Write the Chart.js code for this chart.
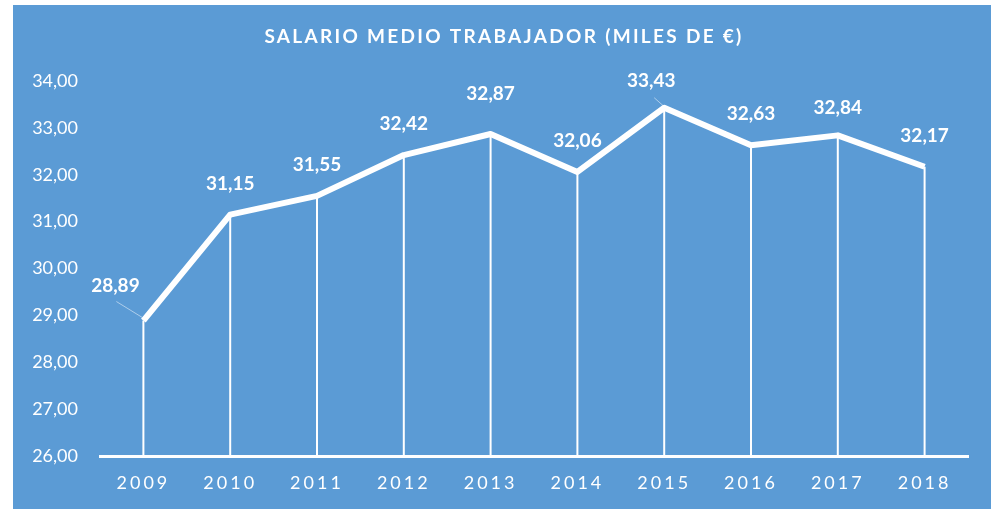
<!DOCTYPE html>
<html>
<head>
<meta charset="utf-8">
<script src="https://cdn.jsdelivr.net/npm/chart.js@4"></script>
<style>
  body { margin: 0; background: #fff; }
  #wrap { position: absolute; left: 13px; top: 5px; width: 978px; height: 504px; background: #5b9bd5; }
</style>
</head>
<body>
<div id="wrap"><canvas id="line-chart"></canvas></div>
<script>
const years = ['2009', '2010', '2011', '2012', '2013', '2014', '2015', '2016', '2017', '2018'];
const salary = [28.89, 31.15, 31.55, 32.42, 32.87, 32.06, 33.43, 32.63, 32.84, 32.17];
const titleText = 'SALARIO MEDIO TRABAJADOR (MILES DE €)';

const fmt = v => v.toFixed(2).replace('.', ',');

// label offsets relative to the point (a few were moved by hand in the original)
const labelShift = { 0: [-28, -35], 4: [0, -40], 6: [-13, -27], 8: [0, -28] };
const leaders = { 0: [[-27, -19], [-1, -3]], 6: [[-10, -10], [-1, -2]] };

const decor = {
  id: 'decor',
  afterLayout(chart) {
    const x = chart.scales.x;
    if (x._spaced) return;
    x._spaced = true;
    const orig = x.drawLabels;
    x.drawLabels = function(area) {
      chart.ctx.save();
      chart.ctx.letterSpacing = '3px';
      orig.call(this, area);
      chart.ctx.restore();
    };
  },
  beforeDatasetsDraw(chart) {
    const ctx = chart.ctx;
    const pts = chart.getDatasetMeta(0).data;
    ctx.save();
    ctx.strokeStyle = '#fff';
    ctx.lineWidth = 2;
    pts.forEach(p => {
      ctx.beginPath();
      ctx.moveTo(p.x, p.y);
      ctx.lineTo(p.x, chart.chartArea.bottom);
      ctx.stroke();
    });
    ctx.restore();
  },
  afterDatasetsDraw(chart) {
    const ctx = chart.ctx;
    const pts = chart.getDatasetMeta(0).data;
    ctx.save();
    // title
    ctx.fillStyle = '#fff';
    ctx.font = 'bold 19px Lato';
    ctx.letterSpacing = '2.3px';
    ctx.textAlign = 'center';
    ctx.textBaseline = 'middle';
    ctx.fillText(titleText, chart.width / 2 + 2, 32);
    ctx.letterSpacing = '0px';
    // data labels
    ctx.font = 'bold 19px Lato';
    pts.forEach((p, i) => {
      const s = labelShift[i] || [0, -31];
      ctx.fillText(fmt(salary[i]), p.x + s[0], p.y + s[1]);
      if (leaders[i]) {
        const [a, b] = leaders[i];
        ctx.strokeStyle = 'rgba(255,255,255,0.5)';
        ctx.lineWidth = 1;
        ctx.beginPath();
        ctx.moveTo(p.x + a[0], p.y + a[1]);
        ctx.lineTo(p.x + b[0], p.y + b[1]);
        ctx.stroke();
      }
    });
    ctx.restore();
  }
};

new Chart(document.getElementById('line-chart'), {
  type: 'line',
  data: {
    labels: years,
    datasets: [{
      data: salary,
      borderColor: '#fff',
      borderWidth: 6,
      borderJoinStyle: 'round',
      pointRadius: 0,
      tension: 0
    }]
  },
  options: {
    responsive: true,
    maintainAspectRatio: false,
    animation: false,
    layout: { padding: { top: 76, right: 23, left: 0, bottom: 0 } },
    plugins: {
      legend: { display: false },
      title: { display: false },
      tooltip: { enabled: false }
    },
    scales: {
      x: {
        offset: true,
        grid: { display: false, drawTicks: false },
        border: { display: true, color: '#fff', width: 3 },
        ticks: { color: '#fff', font: { family: 'Lato', size: 18 }, padding: 16 },
        afterFit(scale) { scale.height = 53; }
      },
      y: {
        min: 26,
        max: 34,
        grid: { display: false, drawTicks: false },
        border: { display: false },
        ticks: {
          stepSize: 1,
          color: '#fff',
          font: { family: 'Lato', size: 18 },
          padding: 22,
          callback: v => fmt(v)
        },
        afterFit(scale) { scale.width = 87; }
      }
    }
  },
  plugins: [decor]
});
</script>
</body>
</html>
